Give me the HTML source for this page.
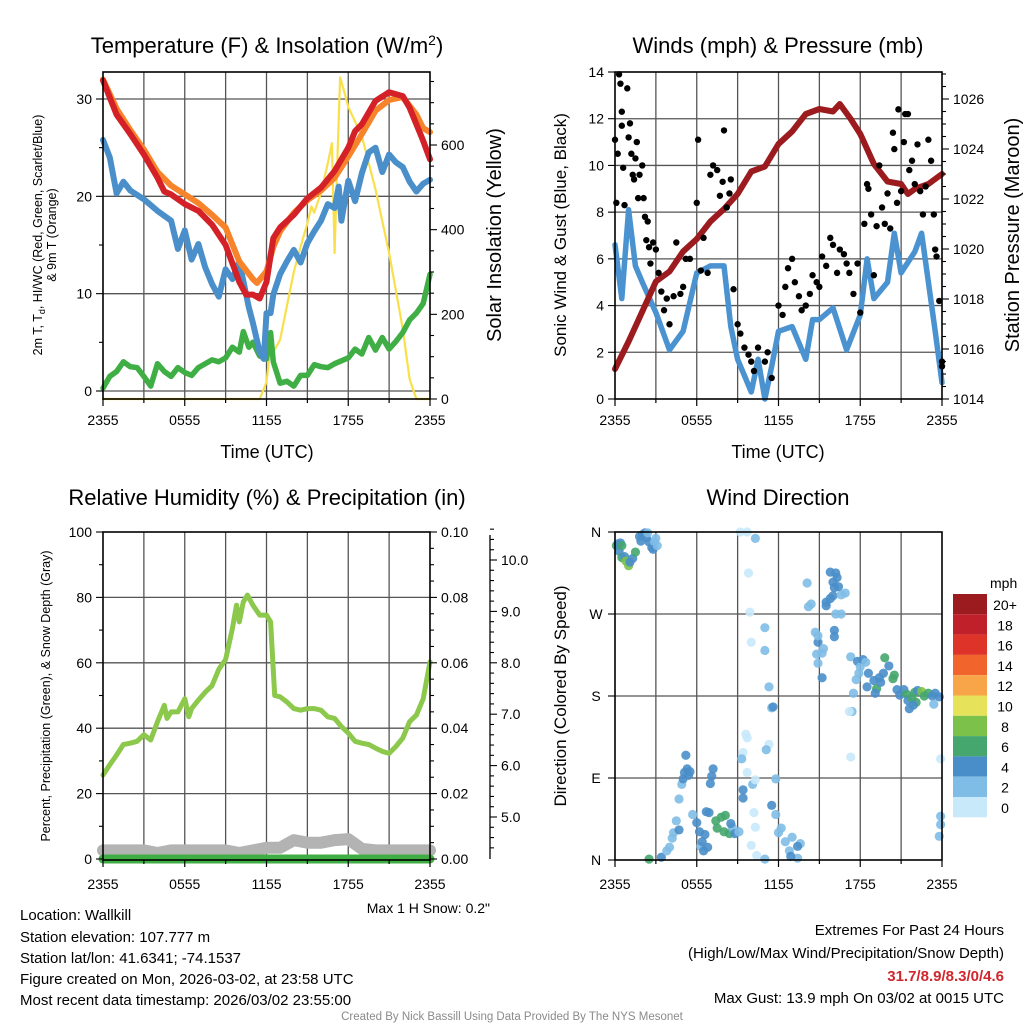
<!DOCTYPE html>
<html><head><meta charset="utf-8"><style>
html,body{margin:0;padding:0;background:#fff;}
svg{display:block;font-family:"Liberation Sans",Arial,sans-serif;}
</style></head><body>
<svg id="fig" width="1024" height="1024" viewBox="0 0 1024 1024" xmlns="http://www.w3.org/2000/svg">
<rect x="0" y="0" width="1024" height="1024" fill="#fff"/>
<text x="267" y="53" font-size="22" text-anchor="middle">Temperature (F) &amp; Insolation (W/m<tspan dy="-8" font-size="14">2</tspan><tspan dy="8">)</tspan></text>
<text x="778" y="53" font-size="22" text-anchor="middle">Winds (mph) &amp; Pressure (mb)</text>
<text x="267" y="505" font-size="22" text-anchor="middle">Relative Humidity (%) &amp; Precipitation (in)</text>
<text x="778" y="505" font-size="22" text-anchor="middle">Wind Direction</text>
<text x="267" y="458" font-size="18" text-anchor="middle">Time (UTC)</text>
<text x="778" y="458" font-size="18" text-anchor="middle">Time (UTC)</text>
<text transform="translate(42,235) rotate(-90)" font-size="12.5" text-anchor="middle">2m T, T<tspan font-size="9" dy="3">d</tspan><tspan dy="-3">, HI/WC (Red, Green, Scarlet/Blue)</tspan></text>
<text transform="translate(56,235) rotate(-90)" font-size="12.5" text-anchor="middle">&amp; 9m T (Orange)</text>
<text transform="translate(501,235) rotate(-90)" font-size="20" text-anchor="middle">Solar Insolation (Yellow)</text>
<text transform="translate(566,235) rotate(-90)" font-size="17" text-anchor="middle">Sonic Wind &amp; Gust (Blue, Black)</text>
<text transform="translate(1019,235) rotate(-90)" font-size="20" text-anchor="middle">Station Pressure (Maroon)</text>
<text transform="translate(50,696) rotate(-90)" font-size="12.5" text-anchor="middle">Percent, Precipitation (Green), &amp; Snow Depth (Gray)</text>
<text transform="translate(566,696) rotate(-90)" font-size="17" text-anchor="middle">Direction (Colored By Speed)</text>
<text x="490" y="913" font-size="14" text-anchor="end">Max 1 H Snow: 0.2"</text>
<g font-size="15">
<text x="20" y="920">Location: Wallkill</text>
<text x="20" y="942">Station elevation: 107.777 m</text>
<text x="20" y="963">Station lat/lon: 41.6341; -74.1537</text>
<text x="20" y="984">Figure created on Mon, 2026-03-02, at 23:58 UTC</text>
<text x="20" y="1005">Most recent data timestamp: 2026/03/02 23:55:00</text>
</g>
<g font-size="15" text-anchor="end">
<text x="1004" y="935">Extremes For Past 24 Hours</text>
<text x="1004" y="958">(High/Low/Max Wind/Precipitation/Snow Depth)</text>
<text x="1004" y="981" fill="#d0262d" font-weight="bold">31.7/8.9/8.3/0/4.6</text>
<text x="1004" y="1003">Max Gust: 13.9 mph On 03/02 at 0015 UTC</text>
</g>
<text x="512" y="1020" font-size="11.5" fill="#8a8a8a" text-anchor="middle">Created By Nick Bassill Using Data Provided By The NYS Mesonet</text>
<text x="990" y="588" font-size="14">mph</text>
</svg>
<script>
// ---- data ----
const tHours=[0,1,2,3,4,4.5,5,6,7,8,9,10,10.5,11,11.5,12,12.5,13,14,15,16,17,18,18.5,19,20,21,22,22.5,23,23.5,24];
const tempRed=[31.9,28.4,26.4,24.3,21.9,20.5,20.2,19.2,18.5,17.1,15,11.2,9.9,9.9,9.5,11.2,15.7,16.8,18.1,19.8,20.9,22.6,25,26.7,27.4,29.8,30.7,30.3,29.1,27.4,25.7,23.8];
const oHours=[0,1,2,3,4,5,6,7,8,9,10,11,11.3,12,12.5,13,14,15,16,17,18,19,20,21,22,23,23.5,24];
const temp9m=[32,29,26.8,24.8,22.5,21.1,20.2,19.3,18.1,16.8,13.3,11.5,11.1,12.3,14.8,16.4,18.3,19.6,20.6,21.9,24.1,26.4,28.8,29.9,30.2,28.4,27,26.6];
const dHours=[0,0.5,1,1.5,2,3,4,5,5.5,6,6.5,7,7.5,8,8.5,9,9.5,10,10.7,11,11.5,11.8,12,12.3,12.5,13,13.5,14,14.5,15,15.5,16,16.5,17,17.3,17.5,18,18.5,19,19.5,20,20.5,21,21.5,22,22.5,23,23.5,24];
const dewBlue=[25.8,24,20.3,21.5,20.6,19.7,18.5,17.5,14.6,16.5,13.5,15.1,12.7,11,9.7,12.5,11.5,13.3,8.6,7,4,3.3,8,8,9.9,12,13.3,14.5,13.2,15.2,16.4,17.5,19.2,18.8,21,17.5,21.6,19.5,22.4,24.5,25,22.5,24.3,23.5,23,21.5,20.5,21.3,21.7];
const gHours=[0,0.5,1,1.5,2,2.5,3,3.5,4,4.5,5,5.5,6,6.5,7,8,8.5,9,9.5,10,10.3,10.7,11,11.5,12,12.3,12.5,13,13.5,14,14.5,15,15.5,16,16.5,17,17.5,18,18.5,19,19.5,20,20.5,21,21.5,22,22.5,23,23.5,24];
const hiwcGreen=[0.3,1.5,2,3,2.5,2.4,1.5,0.5,2.8,2,1.5,2.4,1.9,1.6,2.4,3.2,3,3.4,4.5,4,6.1,4.5,5,3.6,3.3,6,3,0.8,1,0.5,1.6,1.6,2.7,2.5,2.4,2.8,3.1,3.4,4.3,3.8,5.5,4.2,5.5,4.3,5.1,6,7.3,8,9,12];
const sHours=[0,11.5,12,12.3,12.5,13,13.5,14,14.5,15,15.3,15.5,16,16.5,16.8,17,17.2,17.4,17.8,18,19,20,21,22,22.5,23,24];
const insolation=[0,0,40,125,110,140,220,300,360,415,455,440,487,557,604,345,565,760,715,690,620,495,345,165,47,0,0];
const wHours=[0,0.5,1,1.5,2,3,4,5,6,7,8,8.5,9,10,10.5,11,11.5,12,13,14,14.5,15,16,17,18,18.5,19,20,20.5,21,22,22.5,23,23.5,24];
const windSpeed=[6.6,4.3,8.1,5.7,5,3.7,2.1,2.9,5.4,5.7,5.7,3.1,1.7,0.3,1.7,0,1.4,2.9,3.1,1.7,3.4,3.4,3.9,2.1,3.6,6,4.3,5,7.1,5.4,6.3,7.1,5,2.9,0.7];
const gustHours=[0,0.1,0.2,0.3,0.4,0.5,0.5,0.6,0.7,0.9,1.0,1.1,1.2,1.3,1.4,1.5,1.6,1.7,1.8,2.0,2.1,2.2,2.3,2.4,2.5,2.6,2.8,3.0,3.2,3.4,3.6,3.8,4.0,4.3,4.5,4.8,5.0,5.2,5.5,6.0,6.1,6.3,6.5,6.8,7.0,7.2,7.5,7.7,7.9,8.0,8.2,8.4,8.5,8.7,9.0,9.2,9.5,9.8,10.0,10.2,10.5,11.0,11.2,11.5,12.0,12.3,12.5,12.7,13.0,13.2,13.5,13.7,14.0,14.3,14.5,14.8,15.0,15.2,15.5,15.8,16.0,16.3,16.5,16.8,17.0,17.2,17.5,17.8,18.0,18.3,18.5,18.6,18.8,19.0,19.2,19.4,19.6,19.8,20.0,20.2,20.4,20.5,20.7,20.8,21.0,21.2,21.3,21.5,21.6,21.8,22.0,22.2,22.4,22.6,22.8,23.0,23.2,23.4,23.5,23.6,23.8,24.0,24.0];
const gustSpeed=[11.1,8.4,10.5,13.9,13.5,12.3,11.7,9.9,8.3,13.3,11.2,11.8,10.5,9.6,9.4,10.3,11.0,8.6,9.6,10.0,8.6,7.8,6.8,7.6,6.5,5.8,6.7,6.4,5.4,4.6,3.8,4.3,3.2,4.4,6.7,4.5,4.8,6.0,6.0,8.4,11.1,5.5,6.9,5.4,9.6,10.0,9.8,8.7,9.3,11.5,8.2,8.8,9.4,4.7,3.2,2.8,2.2,1.9,1.6,1.2,2.2,1.6,2.0,0.9,4.0,3.6,4.8,5.6,6.0,5.0,4.4,3.8,4.0,4.5,5.3,5.0,4.8,6.1,5.7,6.9,6.6,5.4,6.4,6.2,5.8,5.4,4.5,5.8,3.7,7.5,9.2,9.0,7.9,5.3,7.4,10.0,8.2,7.5,8.8,7.3,11.4,10.7,8.4,12.4,8.9,11.0,12.2,12.2,9.8,10.2,9.2,10.9,8.9,7.9,9.1,11.1,10.2,7.9,6.4,6.1,4.2,1.6,1.4];
const pHours=[0,1,2,3,4,5,6,7,8,9,10,11,12,13,14,15,16,16.5,17.3,18,19,20,21,21.5,22,23,24];
const pressure=[1015.2,1016.3,1017.5,1018.7,1019.1,1019.9,1020.4,1021.1,1021.6,1022.2,1023.1,1023.3,1024.2,1024.7,1025.4,1025.6,1025.5,1025.8,1025.2,1024.6,1023.4,1022.7,1022.6,1022.2,1022.4,1022.6,1023.0];
const rhHours=[0,0.5,1,1.5,2,2.5,3,3.5,4,4.5,4.7,5,5.5,6,6.3,6.5,7,7.5,8,8.5,9,9.5,9.8,10,10.3,10.6,11,11.5,12,12.3,12.6,13,13.5,14,14.5,15,15.5,16,16.5,17,17.5,18,18.5,19,19.5,20,20.5,21,21.5,22,22.5,23,23.5,24];
const relHum=[25.7,28.8,31.8,35,35.4,36,38,36.4,42,47,43,45,45,49,43.5,46,48.6,51,53,58,61,70.5,77.6,72.5,78.6,80.7,77.6,74.6,74.6,72.5,50,49.6,48,46,45.5,46,46,45.5,43.5,43,40.5,38.5,36,35.4,35,33.9,32.9,32.3,34.4,37,42,44,49,60.3];
const precipHours=[0,24];
const precip=[0,0];
const snowHours=[0,2,3,4,5,6,7,9,10,12,13,14,15,16,17,18,19,20,24];
const snowDepth=[4.35,4.35,4.35,4.3,4.35,4.35,4.35,4.35,4.3,4.4,4.4,4.55,4.5,4.5,4.55,4.57,4.38,4.35,4.35];
const dirHours=[0.1,0.2,0.3,0.4,0.5,0.5,0.7,0.8,1.0,1.1,1.3,1.5,1.8,2.0,2.2,2.3,2.5,2.7,2.9,2.8,3.0,3.1,1.9,2.4,
2.5,3.4,3.8,4.0,4.2,4.3,4.5,4.7,4.9,5.0,5.1,5.3,5.4,5.5,5.2,4.7,5.7,6.0,6.2,6.3,6.4,6.5,6.6,6.8,6.7,6.9,7.0,7.1,7.2,7.4,7.5,7.8,8.1,8.0,8.4,8.6,8.8,9.1,8.5,
9.2,9.7,10.3,9.8,9.9,10.0,11.0,11.0,11.3,11.5,11.6,11.3,9.6,9.7,9.4,11.1,9.3,9.7,10.1,10.3,11.8,9.4,9.4,10.2,10.3,10.0,10.4,11.0,11.5,11.8,12.0,12.5,12.8,13.4,12.2,13.0,13.6,12.9,13.4,
14.1,14.2,14.4,14.7,14.9,14.9,15.2,15.3,14.8,14.9,15.2,15.5,15.5,15.8,16.2,16.0,16.3,16.0,15.8,16.2,16.6,16.1,16.1,16.6,16.9,17.3,16.4,16.1,
17.8,18.0,17.9,17.7,17.5,17.4,18.2,18.4,18.6,19.0,19.2,19.4,19.5,19.7,19.8,20.1,20.4,20.5,20.7,20.9,21.2,21.4,21.5,21.6,21.8,22.0,22.2,22.5,22.7,23.0,23.3,23.5,23.8,23.4,18.5,19.1,22.1,21.9,17.3,23.9,23.9,23.9,23.8,17.2];
const dirDeg=[345,347,339,348,345,332,333,328,323,327,331,338,355,357,359,354,349,343,349,341,353,345,350,359,
1,3,10,14,24,30,43,67,83,89,96,100,93,97,115,33,50,41,31,15,20,10,28,14,53,52,84,92,100,43,35,47,49,31,29,36,29,31,40,
360,360,353,315,272,239,255,230,190,167,168,127,138,134,118,121,111,96,83,88,89,77,68,52,36,16,5,1,60,50,30,20,10,2,35,25,18,4,15,
304,278,281,250,239,246,227,232,226,216,200,279,283,316,315,305,310,290,287,270,270,245,252,291,293,223,300,299,
218,212,205,198,183,163,220,217,205,197,188,200,195,205,222,213,199,203,187,181,187,182,175,166,178,184,186,185,180,183,180,183,179,171,190,183,173,170,113,111,48,39,26,163];
const dirSpeed=[6,4,4,4,6,6,4,8,8,4,4,6,4,4,4,4,4,4,2,4,2,2,4,2,
6,4,2,2,2,2,2,2,2,4,4,4,4,4,4,4,2,4,4,2,4,4,4,4,4,4,4,4,4,6,6,6,6,6,6,2,4,2,4,
0,0,2,0,0,0,2,2,2,2,4,0,0,0,0,2,2,0,2,0,2,4,4,0,0,0,0,2,4,2,2,2,2,2,2,2,2,4,4,
2,2,2,2,4,2,2,2,2,2,4,4,4,4,4,4,4,4,4,2,2,4,4,2,2,2,4,4,
4,2,2,2,2,2,4,2,4,4,6,4,4,4,6,4,6,6,4,4,4,6,4,4,6,6,4,8,6,6,4,4,4,2,4,4,6,4,0,0,2,2,2,0];
const timeTicks=["2355","0555","1155","1755","2355"];
const legendLabels=["20+","18","16","14","12","10","8","6","4","2","0"];
const legendColors=["#9b1b1f","#c0202a","#de3328","#f1652c","#f7a548","#e6e35a","#7cc24a","#45a66e","#4a8ec9","#7fbde6","#c8e9f9"];

// ---- helpers ----
const NS="http://www.w3.org/2000/svg";
const svg=document.getElementById('fig');
function mk(tag,attrs,parent){const e=document.createElementNS(NS,tag);for(const k in attrs)e.setAttribute(k,attrs[k]);(parent||svg).appendChild(e);return e;}
function lin(d0,d1,r0,r1){return v=>r0+(v-d0)/(d1-d0)*(r1-r0);}
function speedColor(s){const idx=Math.min(10,Math.max(0,10-Math.floor(s/2)));return legendColors[idx];}

const panels={
 temp:{x0:103,x1:430,top:72,bot:399,lab:425},
 wind:{x0:615,x1:942,top:72,bot:399,lab:425},
 rh:{x0:103,x1:430,top:532,bot:860,lab:889},
 dir:{x0:615,x1:942,top:532,bot:860,lab:889}
};

function drawFrame(key,hVals,yScale){
 const p=panels[key];
 const g=mk('g',{});
 
 
 const xs=lin(0,24,p.x0,p.x1);
 for(let h=3;h<24;h+=3){
  const l=mk('line',{x1:xs(h),x2:xs(h),y1:p.top,y2:p.bot,stroke:'#555','stroke-width':1.3},g);
  
  
 }
 hVals.forEach(v=>{
  const y=yScale(v);
  const l=mk('line',{x1:p.x0,x2:p.x1,y1:y,y2:y,stroke:'#555','stroke-width':1.3},g);
  
  
 });
 return xs;
}
function drawBox(key){
 const p=panels[key];
 const r=mk('rect',{x:p.x0,y:p.top,width:p.x1-p.x0,height:p.bot-p.top,fill:'none',stroke:'#000','stroke-width':1.6});
 
 
 const xs=lin(0,24,p.x0,p.x1);
 for(let h=0;h<=24;h+=3){
  const major=h%6===0;
  const t=mk('line',{x1:xs(h),x2:xs(h),y1:p.bot,y2:p.bot+(major?7:4),stroke:'#000','stroke-width':1.2});
  
  
 }
 timeTicks.forEach((lab,i)=>{
  const t=mk('text',{x:xs(i*6),y:p.lab,'font-size':14,'text-anchor':'middle'});
  t.textContent=lab;
  
  
 });
}
function yAxis(x,side,scale,min,max,majorStep,minorStep,fmt,name){
 const g=mk('g',{});
 
 
 const dir=side==='left'?-1:1;
 const start=Math.ceil(min/minorStep-1e-6), end=Math.floor(max/minorStep+1e-6);
 for(let i=start;i<=end;i++){
  const v=i*minorStep;
  const r=v/majorStep;
  const isMaj=Math.abs(r-Math.round(r))<1e-6;
  const y=scale(v);
  const t=mk('line',{x1:x,x2:x+dir*(isMaj?7:4),y1:y,y2:y,stroke:'#000','stroke-width':1.1},g);
  
  
  if(isMaj&&fmt){
   const tx=mk('text',{x:x+dir*11,y:y+5,'font-size':14,'text-anchor':side==='left'?'end':'start'},g);
   tx.textContent=fmt(Math.round(r)*majorStep);
   
   
  }
 }
}
function polyline(xs,ys,hs,vals,color,w,name){
 const pts=hs.map((h,i)=>xs(h).toFixed(1)+','+ys(vals[i]).toFixed(1)).join(' ');
 const l=mk('polyline',{points:pts,fill:'none',stroke:color,'stroke-width':w,'stroke-linejoin':'round','stroke-linecap':'round'});
 
 
 return l;
}

// ---- panel 1: temperature ----
const tY=lin(0,30,391,99), iY=lin(0,600,399,145);
let xs=drawFrame('temp',[0,10,20,30],tY);
polyline(xs,iY,sHours,insolation,'#f9e04b',2.2,'insolation-line');
polyline(xs,tY,gHours,hiwcGreen,'#3fae45',5.5,'heat-index-windchill-line');
polyline(xs,tY,dHours,dewBlue,'#4a8fca',6,'dewpoint-line');
polyline(xs,tY,oHours,temp9m,'#f7842a',6,'temp-9m-line');
polyline(xs,tY,tHours,tempRed,'#d42027',6,'temp-2m-line');
drawBox('temp');
yAxis(103,'left',tY,-0.5,32.5,10,5,v=>v,'temp-left-axis');
yAxis(430,'right',iY,0,750,200,50,v=>v,'insolation-axis');

// ---- panel 2: wind ----
const wY=lin(0,14,399,72), pY=lin(1014,1026,399,99);
xs=drawFrame('wind',[2,4,6,8,10,12],wY);
polyline(xs,wY,wHours,windSpeed,'#4a93d0',5.5,'sonic-wind-line');
polyline(xs,pY,pHours,pressure,'#9b1b1f',6,'pressure-line');
gustHours.forEach((h,i)=>{
 const c=mk('circle',{cx:xs(h),cy:wY(gustSpeed[i]),r:3.2,fill:'#000'});
 
 
});
drawBox('wind');
yAxis(615,'left',wY,0,14,2,2,v=>v,'wind-axis');
yAxis(942,'right',pY,1014,1027,2,0.5,v=>v,'pressure-axis');

// ---- panel 3: RH ----
const rY=lin(0,100,859,532), prY=lin(0,0.1,859,532), snY=lin(5,10,817,560);
xs=drawFrame('rh',[20,40,60,80],rY);
polyline(xs,snY,snowHours,snowDepth,'#b3b3b3',12,'snow-depth-line');
polyline(xs,prY,precipHours,precip,'#3fae45',9,'precipitation-line');
polyline(xs,rY,rhHours,relHum,'#8cc84b',5,'relative-humidity-line');
drawBox('rh');
yAxis(103,'left',rY,0,100,20,10,v=>v,'rh-axis');
yAxis(430,'right',prY,0,0.1,0.02,0.005,v=>v.toFixed(2),'precip-axis');
const sl=mk('line',{x1:490,x2:490,y1:535,y2:859,stroke:'#000','stroke-width':1.3});


yAxis(490,'right',snY,4.4,10.6,1,0.2,v=>v.toFixed(1),'snow-depth-axis');

// ---- panel 4: direction ----
const dY=lin(0,360,860,532);
xs=drawFrame('dir',[90,180,270],dY);
dirHours.forEach((h,i)=>{
 const c=mk('circle',{cx:xs(h),cy:dY(dirDeg[i]),r:4.6,fill:speedColor(dirSpeed[i]),'fill-opacity':0.9});
 
 
});
drawBox('dir');
const dirLabels=['N','E','S','W','N'];
dirLabels.forEach((lab,i)=>{
 const y=dY(i*90);
 const t=mk('line',{x1:615,x2:608,y1:y,y2:y,stroke:'#000','stroke-width':1.1});
 
 
 const tx=mk('text',{x:596,y:y+5,'font-size':14,'text-anchor':'middle'});
 tx.textContent=lab;
 
 
});
legendLabels.forEach((lab,i)=>{
 const y=594+i*20.3;
 const r=mk('rect',{x:953,y:y,width:34,height:20.3,fill:legendColors[i]});
 
 
 const t=mk('text',{x:1005,y:y+16,'font-size':14,'text-anchor':'middle'});
 t.textContent=lab;
 
 
});
</script>
</body></html>
